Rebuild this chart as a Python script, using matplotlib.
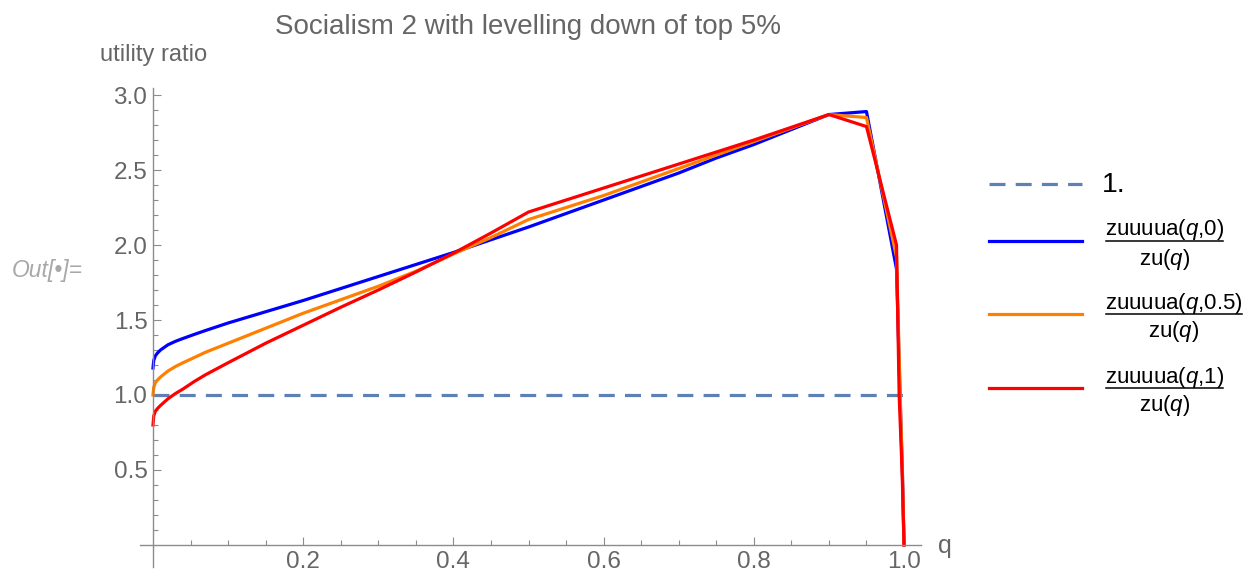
#!/usr/bin/env python3
"""
Recreate the 'Socialism 2 with levelling down of top 5%' utility ratio plot.
"""

import matplotlib
matplotlib.use('Agg')
import matplotlib.pyplot as plt
from matplotlib.lines import Line2D
from matplotlib.ticker import FixedLocator

plt.rcParams['font.family'] = ['Liberation Sans', 'DejaVu Sans']
plt.rcParams['mathtext.fontset'] = 'custom'
plt.rcParams['mathtext.rm'] = 'Liberation Sans'
plt.rcParams['mathtext.it'] = 'Liberation Sans:italic'

# Data
q_blue = [0, 0.001, 0.003, 0.006, 0.01, 0.02, 0.03, 0.04, 0.055, 0.07, 0.1, 0.15, 0.2, 0.25,
          0.3, 0.35, 0.4, 0.45, 0.5, 0.55, 0.6, 0.65, 0.7, 0.75, 0.8, 0.85,
          0.9, 0.95, 0.99, 0.995, 0.998, 1.0]
ratio_blue = [1.18, 1.23, 1.26, 1.28, 1.30, 1.335, 1.358, 1.377, 1.404, 1.43, 1.48, 1.555, 1.63, 1.71,
              1.79, 1.87, 1.95, 2.035, 2.12, 2.21, 2.30, 2.39, 2.48, 2.58, 2.67, 2.77,
              2.87, 2.89, 1.84, 0.95, 0.45, 0.0]

q_orange = [0, 0.001, 0.003, 0.006, 0.01, 0.02, 0.03, 0.04, 0.055, 0.07, 0.1, 0.15, 0.2, 0.25,
            0.3, 0.35, 0.4, 0.45, 0.5, 0.55, 0.6, 0.65, 0.7, 0.75, 0.8, 0.85,
            0.9, 0.95, 0.99, 0.995, 0.998, 1.0]
ratio_orange = [1.00, 1.05, 1.08, 1.10, 1.12, 1.16, 1.19, 1.215, 1.25, 1.285, 1.345, 1.445, 1.545, 1.635,
                1.725, 1.825, 1.94, 2.05, 2.17, 2.25, 2.33, 2.42, 2.51, 2.60, 2.69, 2.78,
                2.87, 2.85, 1.92, 0.98, 0.46, 0.0]

q_red = [0, 0.001, 0.003, 0.006, 0.01, 0.02, 0.03, 0.04, 0.055, 0.07, 0.1, 0.15, 0.2, 0.25,
         0.3, 0.35, 0.4, 0.45, 0.5, 0.55, 0.6, 0.65, 0.7, 0.75, 0.8, 0.85,
         0.9, 0.95, 0.99, 0.9935, 0.9975, 1.0]
ratio_red = [0.80, 0.86, 0.89, 0.91, 0.93, 0.975, 1.01, 1.04, 1.09, 1.135, 1.215, 1.345, 1.465, 1.585,
             1.70, 1.82, 1.945, 2.08, 2.22, 2.30, 2.38, 2.46, 2.54, 2.62, 2.70, 2.785,
             2.87, 2.79, 2.0, 1.0, 0.48, 0.0]

baseline_q = [0, 1.0]
baseline_ratio = [1.0, 1.0]

x_major = [0.2, 0.4, 0.6, 0.8, 1.0]
x_minor = [0.05, 0.1, 0.15, 0.25, 0.3, 0.35, 0.45, 0.5, 0.55, 0.65, 0.7, 0.75,
           0.85, 0.9, 0.95]
y_major = [0.5, 1.0, 1.5, 2.0, 2.5, 3.0]
y_minor = [0.1, 0.2, 0.3, 0.4, 0.6, 0.7, 0.8, 0.9, 1.1, 1.2, 1.3, 1.4, 1.6, 1.7,
           1.8, 1.9, 2.1, 2.2, 2.3, 2.4, 2.6, 2.7, 2.8, 2.9]

legend_params = ['0', '0.5', '1']

W, H = 1248, 577
C_BASE = '#5E81B5'
C_BLUE = '#0000FF'
C_ORANGE = '#FF8000'
C_RED = '#FF0000'
C_TEXT = '#666666'
C_AXIS = '#8C8C8C'
LW = 2.3


def px(x, y):
    """Pixel position (from top-left) to figure fraction."""
    return x / W, 1 - y / H


fig = plt.figure(figsize=(W / 100, H / 100), dpi=100)
fig.patch.set_facecolor('white')

ax_l, ax_r, ax_t, ax_b = 140, 921, 88, 567
ax = fig.add_axes([ax_l / W, 1 - ax_b / H, (ax_r - ax_l) / W, (ax_b - ax_t) / H])
ax.set_facecolor('none')

ax.plot(baseline_q, baseline_ratio, color=C_BASE, lw=LW, dashes=(5, 3.2), solid_capstyle='butt')
ax.plot(q_blue, ratio_blue, color=C_BLUE, lw=LW)
ax.plot(q_orange, ratio_orange, color=C_ORANGE, lw=LW)
ax.plot(q_red, ratio_red, color=C_RED, lw=LW)

ax.set_xlim(-0.0173, 1.0226)
ax.set_ylim(-0.147, 3.047)

for side in ['top', 'right']:
    ax.spines[side].set_visible(False)
ax.spines['left'].set_position(('data', 0))
ax.spines['bottom'].set_position(('data', 0))
for side in ['left', 'bottom']:
    ax.spines[side].set_color(C_AXIS)
    ax.spines[side].set_linewidth(1.0)

ax.xaxis.set_major_locator(FixedLocator(x_major))
ax.xaxis.set_minor_locator(FixedLocator(x_minor))
ax.yaxis.set_major_locator(FixedLocator(y_major))
ax.yaxis.set_minor_locator(FixedLocator(y_minor))
ax.set_xticklabels([f'{v:.1f}' for v in x_major])
ax.set_yticklabels([f'{v:.1f}' for v in y_major])
ax.tick_params(which='both', direction='in', color=C_AXIS, width=0.8,
               labelcolor=C_TEXT, labelsize=17.5)
ax.tick_params(which='major', length=5.5, pad=4)
ax.tick_params(which='minor', length=3.5)

# Titles and axis labels
fig.text(*px(528, 27), 'Socialism 2 with levelling down of top 5%', color=C_TEXT,
         fontsize=20, ha='center', va='center')
fig.text(*px(100, 55), 'utility ratio', color=C_TEXT, fontsize=17, ha='left', va='center')
fig.text(*px(938, 546), 'q', color=C_TEXT, fontsize=18, ha='left', va='center')
fig.text(*px(12, 271), 'Out[\u2022]=', color='#A8A8A8', fontsize=16.5, style='italic',
         ha='left', va='center')

# Legend
hx0, hx1 = 989, 1082
fig.add_artist(Line2D([hx0 / W, hx1 / W], [1 - 184 / H] * 2, color=C_BASE, lw=LW,
                      dashes=(5, 3.2), transform=fig.transFigure))
fig.text(*px(1102, 185), '1.', color='black', fontsize=20.5, ha='left', va='center')

for param, color, bar_y, width in zip(legend_params, [C_BLUE, C_ORANGE, C_RED],
                                      [241, 314, 388], [117, 136, 117]):
    fig.add_artist(Line2D([hx0 / W, hx1 / W], [1 - bar_y / H] * 2, color=color, lw=LW,
                          transform=fig.transFigure))
    cx = 1106 + width / 2
    fig.text(*px(cx, bar_y - 11), f'zuuuua($q$,{param})', color='black', fontsize=16,
             ha='center', va='center')
    fig.add_artist(Line2D([1106 / W, (1106 + width) / W], [1 - (bar_y - 0.5) / H] * 2,
                          color='black', lw=1.1, transform=fig.transFigure))
    fig.text(*px(cx, bar_y + 18), 'zu($q$)', color='black', fontsize=16,
             ha='center', va='center')

fig.savefig('out.png', dpi=100, facecolor='white')
